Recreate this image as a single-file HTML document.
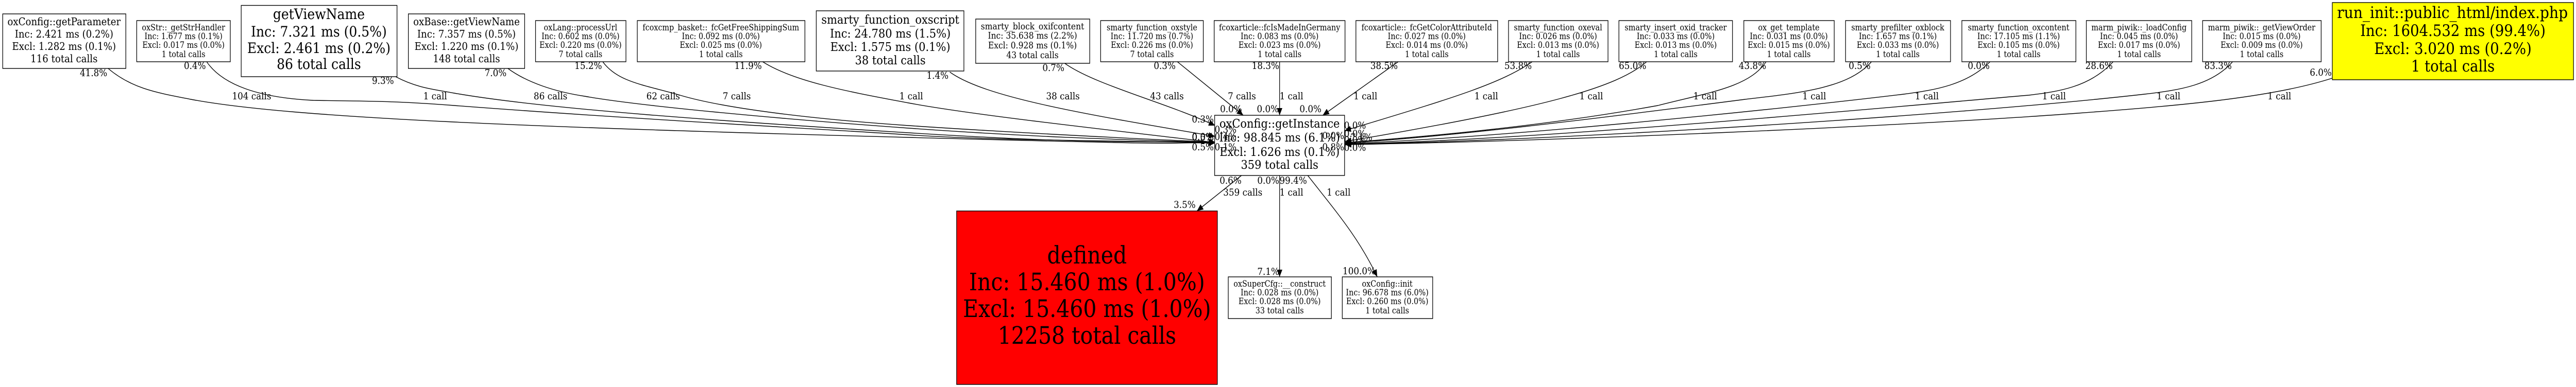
<!DOCTYPE html>
<html style="width:100%;height:100%;overflow:hidden"><head><meta charset="utf-8"><style>
html,body{margin:0;padding:0;background:#fff;width:100%;height:100%;overflow:hidden}
svg{display:block;width:100vw;height:100vh;overflow:hidden}
text{font-family:"DejaVu Serif",serif;text-anchor:middle;fill:#000}
.e{fill:none;stroke:#000;stroke-width:1.4}
.a{marker-end:url(#m)}
.n{fill:#fff;stroke:#000;stroke-width:1.4}
.l{font-size:19px}
.s{font-size:16.3px}.b{font-size:17.6px}.c{font-size:20.6px}.d{font-size:23.8px}.g{font-size:28.4px}.r{font-size:31.2px}.f{font-size:46.5px}
</style></head><body>
<svg xmlns="http://www.w3.org/2000/svg" viewBox="0 0 5671 752" preserveAspectRatio="none">
<defs><marker id="m" markerUnits="userSpaceOnUse" markerWidth="15" markerHeight="12" refX="14" refY="6" orient="auto"><path d="M0 0L14 6L0 12z" fill="#000"/></marker></defs>
<rect width="5671" height="752" fill="#fff"/>
<g class="e">
<path class="a" d="M238 133C290 172 345 180 420 193C640 230 1200 248 2000 267S2500 275 2675 278"/>
<path class="a" d="M455 120C490 165 570 190 690 195C800 197 850 195 1000 205C1400 232 1800 250 2000 262S2500 273 2675 278"/>
<path class="a" d="M871 149C920 172 960 174 1000 181C1200 212 1600 236 2000 258S2500 274 2675 277"/>
<path class="a" d="M1118 133C1160 160 1220 178 1287 187C1400 205 1700 230 2000 249S2500 272 2675 277"/>
<path class="a" d="M1327 120C1360 160 1420 165 1497 185C1600 212 1800 232 2000 244S2500 270 2675 276"/>
<path class="a" d="M1679 120C1750 160 1880 180 2000 200C2150 225 2500 258 2675 277"/>
<path class="a" d="M2091 140C2170 190 2390 222 2675 265"/>
<path class="a" d="M2344 123C2410 165 2570 200 2675 244"/>
<path class="a" d="M2592 120L2737 224"/>
<path class="a" d="M2817 120V224"/>
<path class="a" d="M3078 120L2912 224"/>
<path class="a" d="M3373 120C3300 165 3180 195 2960 254"/>
<path class="a" d="M3625 120C3560 170 3400 210 2961 275"/>
<path class="a" d="M3888 120C3850 170 3760 180 3650 205C3400 245 3150 265 2961 277"/>
<path class="a" d="M4120 120C4070 170 3970 180 3842 193C3500 232 3200 265 2961 278"/>
<path class="a" d="M4381 120C4330 165 4260 175 4191 183C3900 214 3300 268 2961 279"/>
<path class="a" d="M4652 120C4600 170 4530 178 4466 185C4200 205 3400 272 2961 280"/>
<path class="a" d="M4915 120C4870 165 4800 175 4721 183C4300 225 3400 275 2961 280"/>
<path class="a" d="M5134 152C5000 190 4800 205 4574 220C4200 245 3400 275 2961 281"/>
<path class="a" d="M2733 341L2635 410"/>
<path class="a" d="M2817 341V538"/>
<path class="a" d="M2879 341C2940 410 2990 460 3032 538"/>
</g>

<rect class="n" x="6" y="27" width="271" height="106"/>
<g class="c"><text x="141" y="49">oxConfig::getParameter</text><text x="141" y="73">Inc: 2.421 ms (0.2%)</text><text x="141" y="97">Excl: 1.282 ms (0.1%)</text><text x="141" y="121">116 total calls</text></g>
<rect class="n" x="301" y="40" width="206" height="80"/>
<g class="s"><text x="404" y="59">oxStr::_getStrHandler</text><text x="404" y="76">Inc: 1.677 ms (0.1%)</text><text x="404" y="93">Excl: 0.017 ms (0.0%)</text><text x="404" y="111">1 total calls</text></g>
<rect class="n" x="531" y="10.5" width="343" height="138.5"/>
<g class="g"><text x="702" y="37">getViewName</text><text x="702" y="71">Inc: 7.321 ms (0.5%)</text><text x="702" y="103">Excl: 2.461 ms (0.2%)</text><text x="702" y="134">86 total calls</text></g>
<rect class="n" x="899" y="27" width="256" height="106"/>
<g class="c"><text x="1027" y="49">oxBase::getViewName</text><text x="1027" y="73">Inc: 7.357 ms (0.5%)</text><text x="1027" y="97">Excl: 1.220 ms (0.1%)</text><text x="1027" y="121">148 total calls</text></g>
<rect class="n" x="1179" y="40" width="199" height="80"/>
<g class="s"><text x="1278" y="59">oxLang::processUrl</text><text x="1278" y="76">Inc: 0.602 ms (0.0%)</text><text x="1278" y="93">Excl: 0.220 ms (0.0%)</text><text x="1278" y="111">7 total calls</text></g>
<rect class="n" x="1403" y="40" width="369" height="80"/>
<g class="s"><text x="1587" y="59">fcoxcmp_basket::_fcGetFreeShippingSum</text><text x="1587" y="76">Inc: 0.092 ms (0.0%)</text><text x="1587" y="93">Excl: 0.025 ms (0.0%)</text><text x="1587" y="111">1 total calls</text></g>
<rect class="n" x="1797" y="21" width="325" height="117"/>
<g class="d"><text x="1960" y="46">smarty_function_oxscript</text><text x="1960" y="73">Inc: 24.780 ms (1.5%)</text><text x="1960" y="99">Excl: 1.575 ms (0.1%)</text><text x="1960" y="125">38 total calls</text></g>
<rect class="n" x="2148" y="37" width="251" height="86"/>
<g class="b"><text x="2273" y="57">smarty_block_oxifcontent</text><text x="2273" y="75">Inc: 35.638 ms (2.2%)</text><text x="2273" y="94">Excl: 0.928 ms (0.1%)</text><text x="2273" y="113">43 total calls</text></g>
<rect class="n" x="2423" y="40" width="226" height="80"/>
<g class="s"><text x="2536" y="59">smarty_function_oxstyle</text><text x="2536" y="76">Inc: 11.720 ms (0.7%)</text><text x="2536" y="93">Excl: 0.226 ms (0.0%)</text><text x="2536" y="111">7 total calls</text></g>
<rect class="n" x="2673" y="40" width="288" height="80"/>
<g class="s"><text x="2817" y="59">fcoxarticle::fcIsMadeInGermany</text><text x="2817" y="76">Inc: 0.083 ms (0.0%)</text><text x="2817" y="93">Excl: 0.023 ms (0.0%)</text><text x="2817" y="111">1 total calls</text></g>
<rect class="n" x="2985" y="40" width="312" height="80"/>
<g class="s"><text x="3141" y="59">fcoxarticle::_fcGetColorAttributeId</text><text x="3141" y="76">Inc: 0.027 ms (0.0%)</text><text x="3141" y="93">Excl: 0.014 ms (0.0%)</text><text x="3141" y="111">1 total calls</text></g>
<rect class="n" x="3321" y="40" width="219" height="80"/>
<g class="s"><text x="3430" y="59">smarty_function_oxeval</text><text x="3430" y="76">Inc: 0.026 ms (0.0%)</text><text x="3430" y="93">Excl: 0.013 ms (0.0%)</text><text x="3430" y="111">1 total calls</text></g>
<rect class="n" x="3564" y="40" width="250" height="80"/>
<g class="s"><text x="3689" y="59">smarty_insert_oxid_tracker</text><text x="3689" y="76">Inc: 0.033 ms (0.0%)</text><text x="3689" y="93">Excl: 0.013 ms (0.0%)</text><text x="3689" y="111">1 total calls</text></g>
<rect class="n" x="3839" y="40" width="199" height="80"/>
<g class="s"><text x="3938" y="59">ox_get_template</text><text x="3938" y="76">Inc: 0.031 ms (0.0%)</text><text x="3938" y="93">Excl: 0.015 ms (0.0%)</text><text x="3938" y="111">1 total calls</text></g>
<rect class="n" x="4063" y="40" width="231" height="80"/>
<g class="s"><text x="4178" y="59">smarty_prefilter_oxblock</text><text x="4178" y="76">Inc: 1.657 ms (0.1%)</text><text x="4178" y="93">Excl: 0.033 ms (0.0%)</text><text x="4178" y="111">1 total calls</text></g>
<rect class="n" x="4319" y="40" width="251" height="80"/>
<g class="s"><text x="4444" y="59">smarty_function_oxcontent</text><text x="4444" y="76">Inc: 17.105 ms (1.1%)</text><text x="4444" y="93">Excl: 0.105 ms (0.0%)</text><text x="4444" y="111">1 total calls</text></g>
<rect class="n" x="4593" y="40" width="232" height="80"/>
<g class="s"><text x="4709" y="59">marm_piwik::_loadConfig</text><text x="4709" y="76">Inc: 0.045 ms (0.0%)</text><text x="4709" y="93">Excl: 0.017 ms (0.0%)</text><text x="4709" y="111">1 total calls</text></g>
<rect class="n" x="4849" y="40" width="261" height="80"/>
<g class="s"><text x="4979" y="59">marm_piwik::_getViewOrder</text><text x="4979" y="76">Inc: 0.015 ms (0.0%)</text><text x="4979" y="93">Excl: 0.009 ms (0.0%)</text><text x="4979" y="111">1 total calls</text></g>
<rect class="n" x="5134.5" y="5" width="531" height="150" style="fill:#ff0"/>
<g class="r"><text x="5399" y="35" textLength="508" lengthAdjust="spacingAndGlyphs">run_init::public_html/index.php</text><text x="5400" y="70">Inc: 1604.532 ms (99.4%)</text><text x="5400" y="105">Excl: 3.020 ms (0.2%)</text><text x="5400" y="139">1 total calls</text></g>
<rect class="n" x="2674" y="224" width="286" height="117"/>
<g class="d"><text x="2817" y="248">oxConfig::getInstance</text><text x="2817" y="275">Inc: 98.845 ms (6.1%)</text><text x="2817" y="303">Excl: 1.626 ms (0.1%)</text><text x="2817" y="328">359 total calls</text></g>
<rect class="n" x="2106" y="410" width="574" height="337" style="fill:#f00"/>
<g class="f"><text x="2393" y="512">defined</text><text x="2393" y="564">Inc: 15.460 ms (1.0%)</text><text x="2393" y="616">Excl: 15.460 ms (1.0%)</text><text x="2393" y="668">12258 total calls</text></g>
<rect class="n" x="2704" y="538" width="227" height="81"/>
<g class="s"><text x="2817" y="557">oxSuperCfg::__construct</text><text x="2817" y="574">Inc: 0.028 ms (0.0%)</text><text x="2817" y="591">Excl: 0.028 ms (0.0%)</text><text x="2817" y="609">33 total calls</text></g>
<rect class="n" x="2955" y="538" width="199" height="81"/>
<g class="s"><text x="3054" y="557">oxConfig::init</text><text x="3054" y="574">Inc: 96.678 ms (6.0%)</text><text x="3054" y="591">Excl: 0.260 ms (0.0%)</text><text x="3054" y="609">1 total calls</text></g>

<g class="l">
<text x="206" y="148">41.8%</text><text x="429" y="134">0.4%</text><text x="843" y="163">9.3%</text><text x="1091" y="148">7.0%</text><text x="1295" y="134">15.2%</text><text x="1647" y="134">11.9%</text><text x="2064" y="153">1.4%</text><text x="2319" y="138">0.7%</text><text x="2564" y="134">0.3%</text><text x="2786" y="134">18.3%</text><text x="3047" y="134">38.5%</text><text x="3342" y="134">53.8%</text><text x="3594" y="134">65.0%</text><text x="3858" y="134">43.8%</text><text x="4094" y="134">0.5%</text><text x="4356" y="134">0.0%</text><text x="4621" y="134">28.6%</text><text x="4883" y="134">83.3%</text><text x="5109" y="147">6.0%</text>
<text x="554" y="193">104 calls</text><text x="958" y="193">1 call</text><text x="1212" y="193">86 calls</text><text x="1460" y="193">62 calls</text><text x="1622" y="193">7 calls</text><text x="2006" y="193">1 call</text><text x="2340" y="193">38 calls</text><text x="2569" y="193">43 calls</text><text x="2734" y="193">7 calls</text><text x="2843" y="193">1 call</text><text x="3006" y="193">1 call</text><text x="3272" y="193">1 call</text><text x="3503" y="193">1 call</text><text x="3754" y="193">1 call</text><text x="3994" y="193">1 call</text><text x="4242" y="193">1 call</text><text x="4522" y="193">1 call</text><text x="4774" y="193">1 call</text><text x="5018" y="193">1 call</text>
<text x="2710" y="218">0.0%</text><text x="2791" y="218">0.0%</text><text x="2885" y="218">0.0%</text>
<text x="2648" y="238">0.3%</text><text x="2698" y="258">0.3%</text><text x="2648" y="272">0.0%</text><text x="2648" y="273">0.5%</text><text x="2698" y="272">0.4%</text><text x="2648" y="292">0.5%</text><text x="2698" y="292">0.1%</text>
<text x="2983" y="250">0.0%</text><text x="2935" y="270">0.0%</text><text x="2983" y="266">0.0%</text><text x="2997" y="273">7.1%</text><text x="2983" y="278">0.0%</text><text x="2983" y="293">0.0%</text><text x="2935" y="292">0.8%</text>
<text x="2709" y="357">0.6%</text><text x="2792" y="357">0.0%</text><text x="2847" y="357">99.4%</text><text x="2736" y="380">359 calls</text><text x="2843" y="380">1 call</text><text x="2947" y="380">1 call</text><text x="2608" y="404">3.5%</text><text x="2792" y="534">7.1%</text><text x="2992" y="533">100.0%</text>
</g>
</svg>
</body></html>
